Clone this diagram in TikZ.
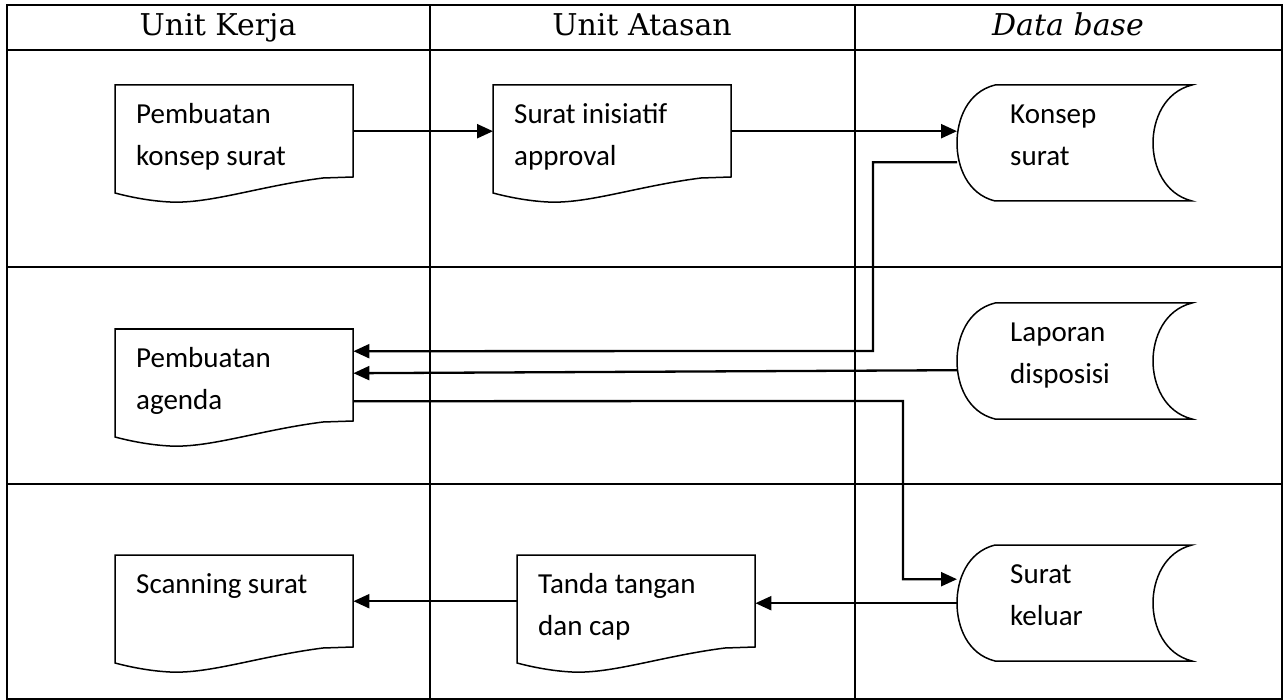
\documentclass[tikz,border=0pt]{standalone}
\usepackage{fontspec}
\setmainfont{Carlito}
\newfontfamily\headfont{DejaVu Serif}
\usetikzlibrary{arrows.meta}

% text boxes: first baseline 38pt below the top edge
\newcommand{\doctext}[1]{\parbox[c][92pt][t]{196pt}{\raggedright\rule{0pt}{38pt}#1}}
\newcommand{\storetext}[1]{\parbox[c][116pt][t]{129pt}{\raggedright\rule{0pt}{38pt}#1}}

% outlines drawn around a named node
\newcommand{\docshape}[1]{%
  \begin{scope}[shift={(#1.north west)}]
    \draw[outline] (0,0) -- (238,0) -- (238,92) -- (208,93)
      .. controls (145,101) and (95,119) .. (55,117)
      .. controls (35,116) and (15,112) .. (0,108) -- cycle;
  \end{scope}}
\newcommand{\storeshape}[1]{%
  \begin{scope}[shift={(#1.north west)}]
    \draw[outline] (38,0) -- (235,0)
      .. controls (207,7) and (196,35) .. (196,58)
      .. controls (196,81) and (207,109) .. (235,116) -- (38,116)
      .. controls (10,109) and (0,81) .. (0,58)
      .. controls (0,35) and (10,7) .. (38,0);
  \end{scope}}

\begin{document}
\begin{tikzpicture}[x=1pt, y=-1pt,
    doc/.style={inner sep=0pt, minimum width=238pt, anchor=north west, font=\fontsize{29pt}{42pt}\selectfont},
    store/.style={inner sep=0pt, minimum width=235pt, anchor=north west, font=\fontsize{29pt}{42pt}\selectfont},
    header/.style={inner sep=0pt, anchor=base, font=\headfont\fontsize{30pt}{34pt}\selectfont},
    outline/.style={line width=1.5pt},
    grid/.style={line width=2.6pt},
    arrow/.style={line width=2.3pt, -{Triangle[length=16pt,width=14pt]}}
]
\useasboundingbox[fill=white] (0,0) rectangle (1284,700);

% Table
\draw[grid] (7,5) rectangle (1282,699);
\draw[grid] (7,50) -- (1282,50);
\draw[grid] (7,267) -- (1282,267);
\draw[grid] (7,484) -- (1282,484);
\draw[grid] (430,5) -- (430,699);
\draw[grid] (855,5) -- (855,699);

% Headers
\node[header] (hkerja) at (218,36) {Unit Kerja};
\node[header] (hatasan) at (642,36) {Unit Atasan};
\node[header] (hdata) at (1068,36) {\itshape Data base};

% Nodes
\node[doc] (konsep) at (115,85) {\doctext{Pembuatan\\konsep surat}};
\node[doc] (inisiatif) at (493,85) {\doctext{Surat inisiatif\\approval}};
\node[doc] (agenda) at (115,329) {\doctext{Pembuatan\\agenda}};
\node[doc] (scanning) at (115,555) {\doctext{Scanning surat}};
\node[doc] (tanda) at (517,555) {\doctext{Tanda tangan\\dan cap}};
\node[store] (dbkonsep) at (957,85) {\storetext{Konsep\\surat}};
\node[store] (laporan) at (957,303) {\storetext{Laporan\\disposisi}};
\node[store] (keluar) at (957,545) {\storetext{Surat\\keluar}};

\docshape{konsep}
\docshape{inisiatif}
\docshape{agenda}
\docshape{scanning}
\docshape{tanda}
\storeshape{dbkonsep}
\storeshape{laporan}
\storeshape{keluar}

% Bends
\coordinate (bend1) at (873,351);
\coordinate (bend2) at (903,401);

% Arrows
\draw[arrow] (konsep.east) -- (inisiatif.west);
\draw[arrow] (inisiatif.east) -- (dbkonsep.west |- inisiatif.east);
\draw[arrow] ([yshift=-19pt]dbkonsep.west) -| (bend1) -- ([yshift=24pt]agenda.east);
\draw[arrow] ([yshift=-9pt]laporan.west) -- ([yshift=2pt]agenda.east);
\draw[arrow] ([yshift=-26pt]agenda.east) -- (bend2) |- ([yshift=24pt]keluar.west);
\draw[arrow] (keluar.west) -- (tanda.east |- keluar.west);
\draw[arrow] (tanda.west) -- (scanning.east |- tanda.west);

\end{tikzpicture}
\end{document}
